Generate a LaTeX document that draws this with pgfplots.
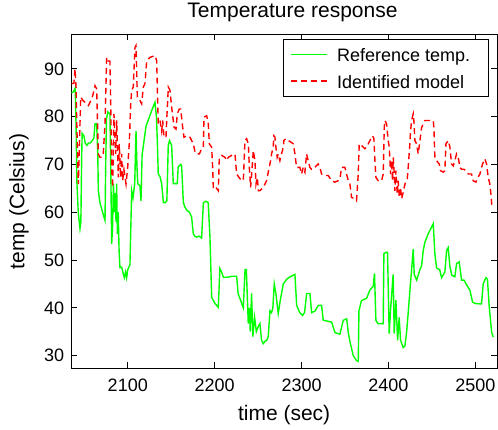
\documentclass[border=0pt]{standalone}
\usepackage{fontspec}
\setmainfont{Liberation Sans}
\usepackage{pgfplots}
\pgfplotsset{compat=1.18}

\definecolor{refgreen}{rgb}{0,1,0}
\definecolor{modred}{rgb}{1,0,0}

\begin{document}
\begin{tikzpicture}
\begin{axis}[
    scale only axis,
    width=425.7pt, height=334pt,
    xmin=2035, xmax=2525,
    ymin=27.3, ymax=97.2,
    xtick={2100,2200,2300,2400,2500},
    ytick={30,40,50,60,70,80,90},
    /pgf/number format/1000 sep={},
    /pgf/number format/assume math mode=true,
    tick align=inside,
    major tick length=6pt,
    axis line style={line width=1pt},
    every tick/.style={black, line width=0.8pt},
    ticklabel style={font=\fontsize{18}{20}\selectfont, inner sep=0pt},
    xticklabel style={anchor=base, yshift=-23.2pt},
    yticklabel style={anchor=east, xshift=-7pt},
    title={Temperature response},
    title style={at={(axis description cs:0.5,1)}, anchor=center,
        yshift=16pt, xshift=8.3pt, font=\fontsize{21}{24}\selectfont},
    xlabel={time (sec)},
    xlabel style={at={(axis description cs:0.5,0)}, anchor=center,
        yshift=-46.5pt, font=\fontsize{21}{24}\selectfont},
    ylabel={temp (Celsius)},
    ylabel style={at={(axis description cs:-0.1229,0.5)}, anchor=center,
        font=\fontsize{21}{24}\selectfont},
    legend style={at={(axis description cs:1,1)}, anchor=north east,
        xshift=-8.7pt, yshift=-4.5pt,
        draw=black, line width=0.8pt,
        inner xsep=6.8pt, inner ysep=1.6pt,
        column sep=9pt,
        font=\fontsize{18}{21}\selectfont,
        nodes={inner xsep=0pt, inner ysep=0pt, text height=21pt, text depth=5.7pt}},
    legend cell align=left,
    legend image code/.code={\draw[#1] (0pt,0pt) -- (36.7pt,0pt);},
]
\addplot[refgreen, line width=1.4pt] coordinates {
(2035.2,85.0) (2037.5,85.2) (2039.5,86.0) (2040.5,78) (2041.5,66) (2043,60)
(2045,56.6) (2046,58) (2047,72) (2047.5,76.5) (2049.5,76.0) (2051,74.5)
(2053,74.0) (2055,74.5) (2057,74.5) (2059,75.0) (2061,75.5) (2062.3,78.5)
(2064.2,78.5) (2065.5,72) (2066.1,64.5) (2068,62) (2071,60) (2073.8,58.3)
(2074.6,70) (2075.5,79.5) (2077,81) (2079.5,80.5) (2080.5,68) (2081.5,53.4)
(2082.5,57) (2083.5,66) (2084.5,60) (2085.5,64) (2086.5,58) (2087.2,66)
(2088,55.5) (2089,60) (2090,52) (2091,48.4) (2093,48.5) (2095,47)
(2096,46.3) (2097.5,47.5) (2098.7,46.3) (2100,48) (2102.5,49) (2104.5,64.5)
(2106,63) (2108,66) (2109.5,77) (2110.5,70) (2111.5,66) (2114,65.5)
(2115.2,62.4) (2116.5,72) (2118,74) (2121,78) (2125,80) (2128,81.5)
(2131.3,83) (2133,80) (2134,75) (2135.1,68) (2137,67.5) (2139,66)
(2141,62) (2143,62) (2145,62.4) (2146.6,74) (2148,75) (2150.5,74)
(2152.4,66) (2155,66) (2157,66) (2158,69.5) (2161,70) (2162,69.7)
(2164,62) (2166,61) (2168,60.4) (2171,60) (2173.5,59) (2175.4,55.5)
(2177,55) (2179,54.8) (2182,55) (2185,54.6) (2187,62) (2190,62.3)
(2192.6,62) (2194.6,54.8) (2196.6,42.2) (2200,41) (2204.2,40.1) (2206,48.2)
(2208,47.5) (2210,46.4) (2215,46.4) (2220,46.6) (2225.3,46.6) (2227,43)
(2233,40) (2235,48) (2236.5,48) (2238.7,36.7) (2240,40) (2241,35)
(2242.5,43) (2244,34) (2246,38) (2248,35) (2250,36) (2252.1,36.7)
(2254,33.2) (2256,32.5) (2258,33) (2260,33.2) (2261.7,34) (2263.7,39.4)
(2265.5,39) (2267,40) (2268.6,45) (2270.5,43) (2273.2,38.8) (2275.5,41.5)
(2279,45) (2283,46) (2287,46.5) (2292.4,47) (2294.4,40.5) (2298,39)
(2301.3,38.4) (2303.5,39) (2305.9,43) (2309.7,43) (2311.6,39) (2315.4,39.3)
(2319.3,40.5) (2323.1,40.5) (2325,37.4) (2330,37.2) (2334.7,37) (2338.5,34.8)
(2344.2,34.5) (2348.1,37.4) (2352,37.7) (2353.8,34.8) (2355.7,33) (2359.5,30)
(2363,29) (2365.3,28.8) (2366.1,39.4) (2369,41.5) (2374.9,42) (2378.7,43.7)
(2382.5,44.5) (2384,47.2) (2385.6,37.4) (2388,36.7) (2394,36.7) (2394.8,51.3)
(2397,51.6) (2399,51.6) (2400.9,34.6) (2402.5,39.6) (2405.5,47) (2406.7,34.6)
(2408.6,41.6) (2410.6,33.2) (2412.4,38) (2414,33.2) (2417,31.7) (2419,32)
(2421,35) (2422.8,39) (2424.8,43.7) (2426.7,48) (2428.6,52.3) (2429.7,47)
(2432.5,45.8) (2436.3,48) (2438.2,48.8) (2440.1,52) (2442,53.7) (2445.8,55.5)
(2449.7,56.9) (2451.6,57.6) (2453.5,51.3) (2455.5,48.3) (2459,48) (2461.2,46.3)
(2465,47.5) (2467,52) (2468.8,52.6) (2470.8,48.6) (2473,46.8) (2476.5,46.5)
(2478.5,49.3) (2481.5,49.6) (2484.2,45.8) (2487,45.8) (2490,44.8) (2493.8,43.7)
(2496.9,41.2) (2500,40.9) (2507.2,40.8) (2509.1,45) (2512.2,46.3) (2514,46)
(2516,40.4) (2518.8,34.9) (2520.6,33.9)
};
\addlegendentry{Reference temp.\rule{11pt}{0pt}}
\addplot[modred, line width=1.4pt, dash pattern=on 6pt off 4pt] coordinates {
(2035.2,86.9) (2038,87) (2039.3,90) (2040.5,86) (2041.2,79.2) (2042.5,70)
(2043.1,65.9) (2044.5,75) (2045.8,84.1) (2048,83.5) (2050.8,83) (2053,82.5)
(2054.6,82.3) (2056.5,83) (2058.5,83.7) (2060.5,85) (2062.3,86.5) (2064.2,85.8)
(2066.1,72.2) (2068,71.5) (2070,71.5) (2071.8,72.2) (2073.8,78.5) (2075.7,92.4)
(2077.5,91.7) (2079.5,91.6) (2080.3,83.4) (2081.5,68.9) (2082.6,65.2) (2084.1,80.6)
(2086.1,72.2) (2087.2,79.2) (2089.1,67.3) (2090.2,74.3) (2091.8,67.3) (2093,72.2)
(2094.1,66.6) (2095.6,68.9) (2098,65.9) (2099.9,69.4) (2101.7,74.3) (2103.4,82.7)
(2104.5,85.5) (2106.3,86.2) (2108.3,94.5) (2109.5,94.9) (2111,84.1) (2114,83.4)
(2116,82.7) (2117.9,86.2) (2119.8,86.9) (2121.8,91.7) (2125.6,92.4) (2131.3,92.8)
(2133.3,91.7) (2134,86.2) (2135.1,78.5) (2137.1,79.2) (2139,77) (2140.2,79.2)
(2141.7,75.7) (2144,75.7) (2144.8,79.2) (2146.7,86.2) (2148.6,85.5) (2150.5,82)
(2152.4,79.2) (2153.2,77.8) (2155.5,77.4) (2157,80.6) (2159.3,81.6) (2160.9,81.6)
(2163.2,77.8) (2164.7,75.7) (2167.8,76) (2171.6,75.7) (2173.5,75) (2175.5,74.3)
(2177.4,72.6) (2179.3,72.2) (2182.4,72.2) (2185,73.3) (2187,73.6) (2187.7,79.9)
(2190.8,80.2) (2192.7,78.5) (2193.9,74.3) (2196.6,73.6) (2197.7,69.4) (2198.5,64.9)
(2201.5,65.2) (2204.2,64.5) (2205.4,71.5) (2208.1,71.9) (2211.9,71.5) (2213.8,70.8)
(2215.7,71.5) (2219.6,71.9) (2223.4,72.2) (2225.3,68) (2229.2,67) (2233,66.6)
(2234.9,75) (2236.8,75.4) (2238.8,74.3) (2239.9,69.4) (2241.4,65.2) (2242.6,68)
(2244.5,72.9) (2246.4,70.8) (2247.6,65.9) (2249.1,67.3) (2250.3,64.5) (2252.1,64.5)
(2256,65.2) (2259.8,66.6) (2262.8,69.4) (2264.4,70.8) (2265.5,72.2) (2267.4,73.6)
(2268.2,76) (2269.4,75.7) (2270.5,73.6) (2272,71.5) (2273.2,72.2) (2275.1,70.8)
(2277,72.2) (2279,73.6) (2279.7,75) (2282,75.4) (2284.7,75) (2288.5,74.6)
(2290.5,74.3) (2292.4,72.2) (2294.3,69.4) (2298.1,69.4) (2300,68) (2302,69.4)
(2303.9,68.4) (2305.8,72.2) (2307.7,70.8) (2309.6,69.4) (2311.6,69) (2315.4,69.4)
(2319.2,70.1) (2321.1,69.4) (2323.1,68) (2326.9,67.7) (2330.7,67.7) (2334.6,66.6)
(2338.4,66.3) (2342.2,66.6) (2344.2,67) (2346.1,69.4) (2349.9,69.4) (2353.8,66.6)
(2355.7,65.9) (2357.6,63.1) (2361.4,62.8) (2363.3,62.4) (2365.3,68) (2366.4,74.3)
(2369.1,74) (2372.9,73.3) (2374.9,73.6) (2378.7,75) (2381.8,76) (2383.3,75.4)
(2384.5,70.8) (2385.6,67.3) (2388.3,66.6) (2392.1,66.6) (2394.1,68) (2395.2,77.7)
(2396,79.2) (2397.9,78.5) (2399.8,75) (2401,73.6) (2402.5,68) (2403.6,70.8)
(2404.8,66.6) (2405.6,71.5) (2406.7,68) (2407.5,64.5) (2408.6,68.7) (2410.2,63.8)
(2411.3,66.6) (2412.5,63.1) (2414,65.2) (2415.2,62.8) (2417.1,64.2) (2418.2,65.2)
(2420.1,66.6) (2421.7,67) (2422.8,69.4) (2424.7,74.3) (2425.5,77) (2426.7,79.2)
(2428.6,80.6) (2429.3,79.2) (2430.5,75) (2432.4,74.3) (2434.3,72.2) (2436.3,75)
(2438.2,77.7) (2440.1,78.5) (2442,79.2) (2447.8,79.2) (2451.6,79.2) (2452.4,77.7)
(2453.5,71.5) (2455.4,70.8) (2458.5,70.1) (2460,68.7) (2463.1,68.4) (2465,68.7)
(2466.2,74.3) (2468.9,75) (2470.8,73.6) (2472.7,70.1) (2474.6,69.7) (2476.5,70.8)
(2478.4,72.2) (2480.4,71.5) (2482.3,69.4) (2484.2,69) (2486.9,69) (2489.2,68.7)
(2491.9,68) (2495.7,68) (2497.6,66.6) (2500.7,66.3) (2502.2,67) (2505.3,68)
(2508.4,70.1) (2511,71.2) (2513,70.1) (2514.9,67.3) (2516.8,65.9) (2518,63.8)
(2519.1,61.3)
};
\addlegendentry{Identified model}
\end{axis}
\pgfresetboundingbox
\path[use as bounding box] (-71.3pt,-61.5pt) rectangle (426.7pt,368.5pt);
\end{tikzpicture}
\end{document}
